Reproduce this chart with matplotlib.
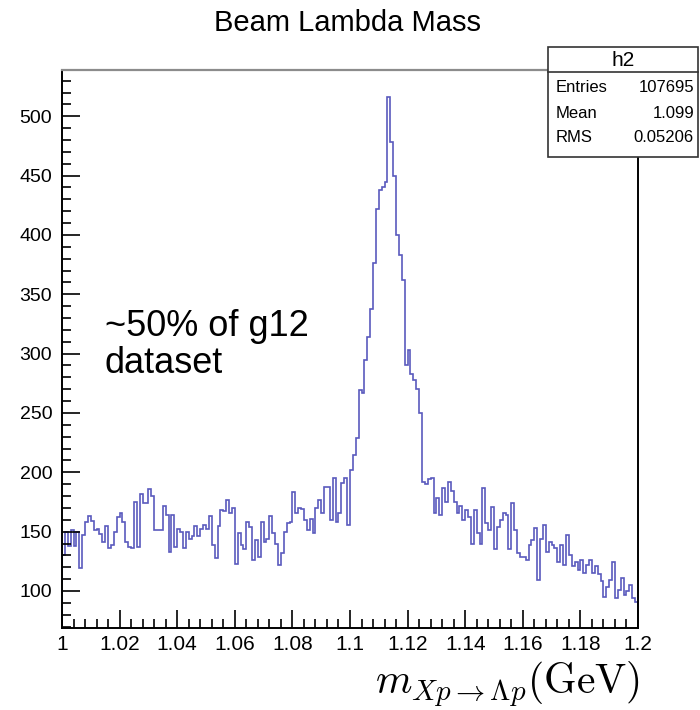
import matplotlib
matplotlib.use('Agg')
import matplotlib.pyplot as plt
import numpy as np
from matplotlib.ticker import MultipleLocator
from matplotlib.patches import Rectangle
from matplotlib.lines import Line2D

plt.rcParams['font.family'] = ['Liberation Sans', 'DejaVu Sans']
plt.rcParams['mathtext.fontset'] = 'cm'

# histogram h2: 200 bins from 1.0 to 1.2 GeV
x_lo, x_hi, n_bins = 1.0, 1.2, 200
counts = [
    130, 150, 138, 151, 138, 150, 119, 147, 158, 163,
    159, 151, 152, 148, 141, 155, 136, 139, 150, 162,
    166, 158, 141, 137, 136, 175, 137, 182, 174, 174,
    186, 180, 151, 151, 151, 172, 164, 133, 164, 137,
    152, 150, 136, 150, 144, 146, 155, 146, 152, 156,
    152, 163, 139, 128, 155, 168, 167, 177, 166, 170,
    123, 149, 139, 135, 158, 154, 126, 143, 129, 158,
    141, 144, 163, 149, 140, 122, 132, 150, 157, 158,
    183, 166, 170, 169, 160, 151, 161, 149, 170, 177,
    166, 188, 188, 160, 195, 158, 166, 191, 195, 156,
    202, 215, 229, 269, 267, 295, 314, 338, 376, 422,
    438, 440, 445, 516, 478, 450, 400, 383, 362, 290,
    303, 283, 278, 270, 250, 192, 190, 194, 195, 166,
    178, 164, 187, 175, 192, 184, 175, 166, 172, 160,
    168, 162, 140, 168, 149, 140, 187, 157, 151, 171,
    135, 154, 160, 166, 164, 135, 174, 151, 132, 129,
    129, 126, 139, 143, 153, 109, 144, 156, 133, 141,
    139, 136, 124, 139, 122, 147, 130, 121, 124, 118,
    126, 115, 122, 126, 115, 121, 114, 108, 95, 103,
    109, 124, 94, 101, 111, 97, 100, 105, 94, 91,
]
edges = np.linspace(x_lo, x_hi, n_bins + 1)

title = 'Beam Lambda Mass'
note = '~50% of g12\ndataset'
stats_name = 'h2'
stats_rows = [('Entries', '107695'), ('Mean', '1.099'), ('RMS', '0.05206')]

W, H = 700, 710
fig = plt.figure(figsize=(W / 100, H / 100), dpi=100)
ax = fig.add_axes([62 / W, 1 - 628 / H, 576 / W, 558 / H])

ax.stairs(counts, edges, color='#5a5abd', lw=1.2)

ax.set_xlim(x_lo, x_hi)
ax.set_ylim(68.8, 539)

ax.xaxis.set_major_locator(MultipleLocator(0.02))
ax.xaxis.set_minor_locator(MultipleLocator(0.004))
ax.yaxis.set_major_locator(MultipleLocator(50))
ax.yaxis.set_minor_locator(MultipleLocator(10))
ax.xaxis.set_major_formatter(plt.FuncFormatter(lambda v, p: ('%.2f' % v).rstrip('0').rstrip('.')))

ax.tick_params(which='both', direction='in', top=False, right=False, width=1.2)
ax.tick_params(which='major', length=13)
ax.tick_params(which='minor', length=6.5)
ax.tick_params(axis='x', labelsize=15, pad=5)
ax.tick_params(axis='y', labelsize=14, pad=7)

for s in ['left', 'bottom', 'right']:
    ax.spines[s].set_linewidth(1.4)
    ax.spines[s].set_color('black')
ax.spines['top'].set_color('#8c8c8c')
ax.spines['top'].set_linewidth(1.6)

fig.text(348 / W, 1 - 23 / H, title, ha='center', va='center', fontsize=21)
fig.text(105 / W, 1 - 345 / H, note, ha='left', va='center', fontsize=26,
         linespacing=1.05)
fig.text(640 / W, 1 - 684 / H, r'$m_{Xp\to\Lambda p}(\mathrm{GeV})$',
         ha='right', va='center', fontsize=30)

# stats box
bx0, bx1, by0, by1 = 548 / W, 698 / W, 1 - 157 / H, 1 - 47 / H
fig.patches.append(Rectangle((bx0, by0), bx1 - bx0, by1 - by0, transform=fig.transFigure,
                             facecolor='white', edgecolor='#333333', lw=1.2, zorder=5))
fig.lines.append(Line2D([bx0, bx1], [1 - 72 / H, 1 - 72 / H], transform=fig.transFigure,
                        color='#333333', lw=1.2, zorder=6))
fig.text((bx0 + bx1) / 2, 1 - 60 / H, stats_name, ha='center', va='center',
         fontsize=15, zorder=7)
for i, (k, v) in enumerate(stats_rows):
    yy = 1 - (88 + 25 * i) / H
    fig.text(556 / W, yy, k, ha='left', va='center', fontsize=12, zorder=7)
    fig.text(694 / W, yy, v, ha='right', va='center', fontsize=12, zorder=7)

fig.savefig('out.png', dpi=100)
